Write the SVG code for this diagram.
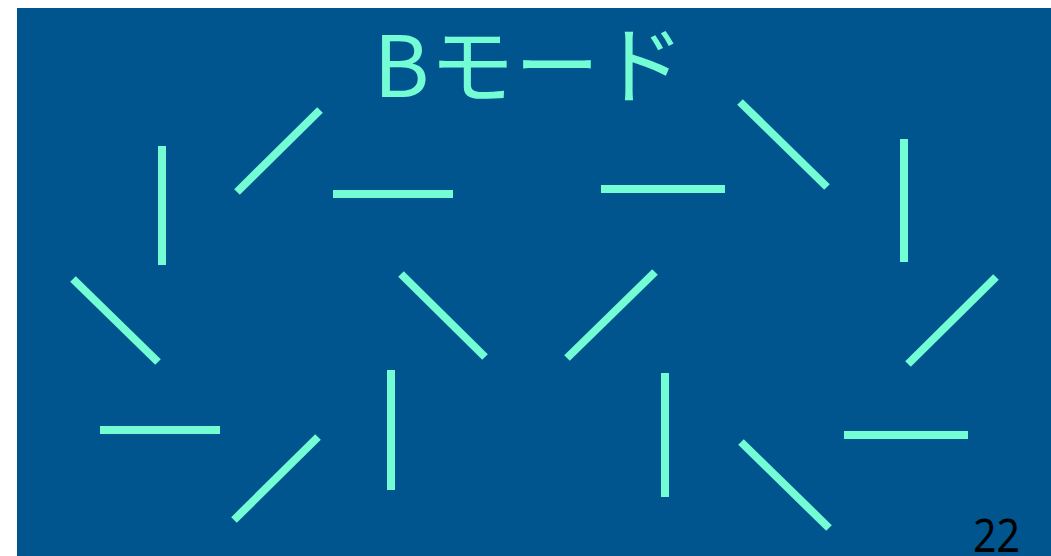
<svg xmlns="http://www.w3.org/2000/svg" width="1051" height="556" viewBox="0 0 1051 556">
<style>
.s{stroke:#74fcd5;stroke-width:8;stroke-linecap:butt;fill:none}
.t{font-family:"Noto Sans CJK JP","Noto Sans",sans-serif;fill:#74fcd5}
.n{font-family:"Noto Sans","DejaVu Sans",sans-serif;fill:#000}
</style>
<rect width="1051" height="556" fill="#ffffff"/>
<rect x="17" y="8" width="1034" height="548" fill="#00558f"/>
<g id="title"><text class="t" x="529" y="97" font-size="85" text-anchor="middle">Bモード</text></g>
<g id="connectors">
<line class="s" x1="162" y1="146" x2="162" y2="265"/>
<line class="s" x1="237" y1="192" x2="320" y2="110"/>
<line class="s" x1="333" y1="194" x2="453" y2="194"/>
<line class="s" x1="601" y1="189" x2="725" y2="189"/>
<line class="s" x1="740" y1="102" x2="827" y2="187"/>
<line class="s" x1="904" y1="139" x2="904" y2="262"/>
<line class="s" x1="73" y1="279" x2="158" y2="362"/>
<line class="s" x1="401" y1="274" x2="485" y2="357"/>
<line class="s" x1="567" y1="358" x2="655" y2="272"/>
<line class="s" x1="908" y1="364" x2="996" y2="277"/>
<line class="s" x1="100" y1="430" x2="220" y2="430"/>
<line class="s" x1="234" y1="520" x2="318" y2="437"/>
<line class="s" x1="391" y1="370" x2="391" y2="490"/>
<line class="s" x1="665" y1="373" x2="665" y2="497"/>
<line class="s" x1="741" y1="442" x2="829" y2="528"/>
<line class="s" x1="844" y1="435" x2="968" y2="435"/>
</g>
<g id="page"><text class="n" x="973" y="552" font-size="46" textLength="47" lengthAdjust="spacingAndGlyphs">22</text></g>
</svg>
